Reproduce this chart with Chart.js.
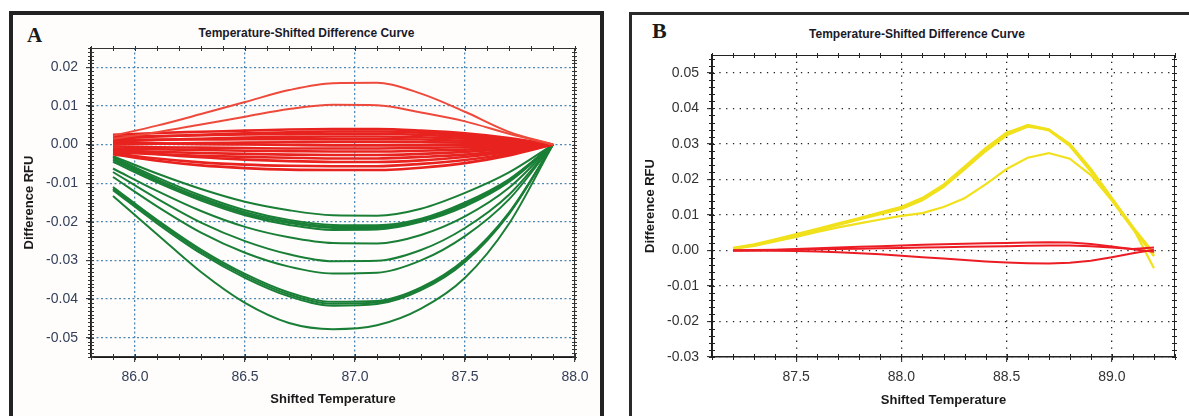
<!DOCTYPE html>
<html>
<head>
<meta charset="utf-8">
<script src="https://cdn.jsdelivr.net/npm/chart.js@4"></script>
<style>
  body { margin: 0; width: 1189px; height: 416px; overflow: hidden; background: #fff; position: relative; font-family: 'Liberation Sans', Arial, sans-serif; }
  .frame { position: absolute; box-sizing: border-box; }
  #frameA { left: 9px; top: 11px; width: 595px; height: 420px; border: 4px solid #222; background: #fffdfc; }
  #frameB { left: 629px; top: 12px; width: 600px; height: 420px; border: 3px solid #2a2a2a; background: #fff; }
  .letter { position: absolute; font: bold 21px 'Liberation Serif', 'DejaVu Serif', serif; color: #1a1a1a; }
  .title { position: absolute; text-align: center; font: bold 12px 'Liberation Sans Narrow', 'Liberation Sans', Arial, sans-serif; color: #1a1a2a; }
  canvas { position: absolute; }
</style>
</head>
<body>
<div class="frame" id="frameA"></div>
<div class="frame" id="frameB"></div>
<div class="letter" style="left:27px; top:23px;">A</div>
<div class="letter" style="left:652px; top:18px; font-size:22px;">B</div>
<div class="title" style="left:9px; width:595px; top:26px;">Temperature-Shifted Difference Curve</div>
<div class="title" style="left:629px; width:576px; top:27px;">Temperature-Shifted Difference Curve</div>
<canvas id="chartA" width="588" height="402" style="left:12px; top:14px;"></canvas>
<canvas id="chartB" width="559" height="401" style="left:630px; top:15px;"></canvas>
<script>
// ---- panel A data ----
const aTemps = [85.9, 86.1, 86.3, 86.5, 86.7, 86.9, 87.1, 87.3, 87.5, 87.7, 87.9];
const aXTicks = [86.0, 86.5, 87.0, 87.5, 88.0];
const aYTicks = [-0.05, -0.04, -0.03, -0.02, -0.01, 0.00, 0.01, 0.02];

const aRed = [
    [0.0023, 0.0049, 0.0079, 0.0110, 0.0141, 0.0159, 0.0160, 0.0132, 0.0085, 0.0033, 0],
    [0.0015, 0.0032, 0.0052, 0.0072, 0.0092, 0.0103, 0.0102, 0.0083, 0.0060, 0.0028, 0],
    [0.0025, 0.0030, 0.0033, 0.0036, 0.0039, 0.0040, 0.0040, 0.0036, 0.0029, 0.0017, 0],
    [0.0015, 0.0021, 0.0025, 0.0029, 0.0032, 0.0034, 0.0034, 0.0031, 0.0024, 0.0014, 0],
    [0.0020, 0.0022, 0.0024, 0.0026, 0.0027, 0.0028, 0.0028, 0.0025, 0.0020, 0.0012, 0],
    [0.0008, 0.0012, 0.0015, 0.0018, 0.0020, 0.0021, 0.0021, 0.0019, 0.0015, 0.0009, 0],
    [0.0012, 0.0013, 0.0013, 0.0014, 0.0014, 0.0014, 0.0014, 0.0013, 0.0010, 0.0006, 0],
    [0.0000, 0.0002, 0.0004, 0.0005, 0.0006, 0.0007, 0.0007, 0.0006, 0.0005, 0.0003, 0],
    [0.0005, 0.0003, 0.0001, 0.0000, -0.0001, -0.0002, -0.0002, -0.0002, -0.0001, -0.0001, 0],
    [-0.0005, -0.0007, -0.0008, -0.0009, -0.0010, -0.0010, -0.0010, -0.0009, -0.0007, -0.0004, 0],
    [-0.0010, -0.0012, -0.0014, -0.0016, -0.0017, -0.0018, -0.0018, -0.0016, -0.0013, -0.0008, 0],
    [-0.0015, -0.0019, -0.0022, -0.0024, -0.0026, -0.0027, -0.0027, -0.0024, -0.0019, -0.0011, 0],
    [-0.0020, -0.0025, -0.0029, -0.0032, -0.0034, -0.0036, -0.0036, -0.0032, -0.0026, -0.0015, 0],
    [-0.0012, -0.0024, -0.0033, -0.0039, -0.0043, -0.0045, -0.0045, -0.0041, -0.0032, -0.0019, 0],
    [-0.0022, -0.0036, -0.0046, -0.0052, -0.0055, -0.0056, -0.0056, -0.0050, -0.0040, -0.0024, 0],
    [-0.0025, -0.0042, -0.0054, -0.0061, -0.0065, -0.0066, -0.0066, -0.0060, -0.0048, -0.0028, 0]
];

const aGreen = [
    [-0.0030, -0.0075, -0.0115, -0.0148, -0.0170, -0.0183, -0.0184, -0.0166, -0.0125, -0.0072, 0],
    [-0.0032, -0.0085, -0.0132, -0.0170, -0.0195, -0.0208, -0.0209, -0.0192, -0.0150, -0.0090, 0],
    [-0.0036, -0.0090, -0.0137, -0.0175, -0.0199, -0.0212, -0.0213, -0.0195, -0.0153, -0.0092, 0],
    [-0.0040, -0.0094, -0.0141, -0.0179, -0.0203, -0.0216, -0.0216, -0.0197, -0.0156, -0.0094, 0],
    [-0.0045, -0.0098, -0.0145, -0.0183, -0.0208, -0.0221, -0.0220, -0.0200, -0.0160, -0.0097, 0],
    [-0.0062, -0.0120, -0.0172, -0.0213, -0.0240, -0.0255, -0.0256, -0.0234, -0.0186, -0.0112, 0],
    [-0.0071, -0.0140, -0.0202, -0.0250, -0.0284, -0.0302, -0.0301, -0.0273, -0.0216, -0.0130, 0],
    [-0.0084, -0.0160, -0.0228, -0.0280, -0.0316, -0.0334, -0.0332, -0.0300, -0.0237, -0.0142, 0],
    [-0.0110, -0.0195, -0.0272, -0.0335, -0.0383, -0.0407, -0.0405, -0.0370, -0.0297, -0.0176, 0],
    [-0.0114, -0.0199, -0.0277, -0.0340, -0.0388, -0.0412, -0.0409, -0.0373, -0.0300, -0.0178, 0],
    [-0.0118, -0.0204, -0.0282, -0.0345, -0.0393, -0.0417, -0.0413, -0.0377, -0.0304, -0.0180, 0],
    [-0.0133, -0.0232, -0.0330, -0.0410, -0.0462, -0.0478, -0.0468, -0.0425, -0.0345, -0.0205, 0]
];

// ---- panel B data ----
const bTemps = [87.2, 87.3, 87.4, 87.5, 87.6, 87.7, 87.8, 87.9, 88.0, 88.1, 88.2,
                88.3, 88.4, 88.5, 88.6, 88.7, 88.8, 88.9, 89.0, 89.1, 89.2];
const bXTicks = [87.5, 88.0, 88.5, 89.0];
const bYTicks = [-0.03, -0.02, -0.01, 0.00, 0.01, 0.02, 0.03, 0.04, 0.05];

const bYellow = [
    [0.0006, 0.0016, 0.0029, 0.0044, 0.0059, 0.0074, 0.0089, 0.0105, 0.0121, 0.0146, 0.0182, 0.0232, 0.0284, 0.0329, 0.0353, 0.0341, 0.0298, 0.0226, 0.0145, 0.0064, -0.0050],
    [0.0007, 0.0017, 0.0031, 0.0046, 0.0061, 0.0076, 0.0091, 0.0107, 0.0123, 0.0148, 0.0185, 0.0236, 0.0288, 0.0332, 0.0351, 0.0338, 0.0294, 0.0222, 0.0142, 0.0062, -0.0016],
    [0.0005, 0.0015, 0.0028, 0.0042, 0.0057, 0.0072, 0.0087, 0.0102, 0.0117, 0.0141, 0.0178, 0.0228, 0.0279, 0.0324, 0.0348, 0.0340, 0.0300, 0.0230, 0.0148, 0.0066, -0.0008],
    [0.0004, 0.0013, 0.0025, 0.0038, 0.0052, 0.0065, 0.0076, 0.0087, 0.0097, 0.0105, 0.0122, 0.0147, 0.0186, 0.0229, 0.0261, 0.0274, 0.0258, 0.0212, 0.0140, 0.0060, -0.0015]
];

const bRed = [
    [0, 0.0001, 0.0002, 0.0004, 0.0006, 0.0008, 0.0010, 0.0012, 0.0014, 0.0016, 0.0017, 0.0019, 0.0020, 0.0021, 0.0022, 0.0023, 0.0022, 0.0018, 0.0011, 0.0003, -0.0004],
    [0, 0.0000, 0.0001, 0.0002, 0.0003, 0.0004, 0.0005, 0.0006, 0.0007, 0.0008, 0.0009, 0.0010, 0.0011, 0.0012, 0.0013, 0.0014, 0.0014, 0.0012, 0.0008, 0.0004, 0.0008],
    [0, 0.0000, -0.0001, -0.0002, -0.0003, -0.0005, -0.0008, -0.0011, -0.0015, -0.0019, -0.0023, -0.0027, -0.0031, -0.0034, -0.0036, -0.0037, -0.0035, -0.0029, -0.0019, -0.0008, 0.0002]
];

Chart.defaults.font.family = "'Liberation Sans', Arial, sans-serif";

// frame around the plot area plus small minor ticks on all four sides
const frameTicks = {
    id: 'frameTicks',
    afterDatasetsDraw(chart, args, opts) {
        const { ctx, chartArea: a, scales: { x, y } } = chart;
        ctx.save();
        ctx.strokeStyle = opts.color;
        ctx.lineWidth = 1;
        ctx.strokeRect(a.left + 0.5, a.top + 0.5, a.right - a.left - 1, a.bottom - a.top - 1);
        ctx.beginPath();
        const n0 = Math.ceil(x.min / opts.xStep - 1e-6), n1 = Math.floor(x.max / opts.xStep + 1e-6);
        for (let i = n0; i <= n1; i++) {
            const px = Math.round(x.getPixelForValue(i * opts.xStep)) + 0.5;
            ctx.moveTo(px, a.bottom - 3); ctx.lineTo(px, a.bottom + 3);
            ctx.moveTo(px, a.top - 2); ctx.lineTo(px, a.top + 3);
        }
        const m0 = Math.ceil(y.min / opts.yStep - 1e-6), m1 = Math.floor(y.max / opts.yStep + 1e-6);
        for (let i = m0; i <= m1; i++) {
            const py = Math.round(y.getPixelForValue(i * opts.yStep)) + 0.5;
            ctx.moveTo(a.left - 3, py); ctx.lineTo(a.left + 3, py);
            ctx.moveTo(a.right - 3, py); ctx.lineTo(a.right + 2, py);
        }
        ctx.stroke();
        ctx.restore();
    }
};

function series(xs, ys, color, width, curve) {
    return {
        data: xs.map((t, i) => ({ x: t, y: ys[i] })),
        borderColor: color,
        borderWidth: width,
        pointRadius: 0,
        fill: false,
        cubicInterpolationMode: curve ? 'monotone' : 'default',
        tension: 0
    };
}

function axes(cfg) {
    const gridOpts = { color: cfg.gridColor, lineWidth: cfg.gridW, tickLength: 5, tickColor: '#222', tickBorderDash: [], tickWidth: 1 };
    // in v4 the dash of the grid lines lives under border.dash
    const borderOpts = { display: true, color: '#1a1a1a', width: cfg.axisW, dash: cfg.dash };
    return {
        x: {
            type: 'linear', min: cfg.xMin, max: cfg.xMax,
            afterBuildTicks: s => { s.ticks = cfg.xTicks.map(v => ({ value: v })); },
            afterFit: s => { s.height = cfg.xH; },
            ticks: { callback: v => Number(v).toFixed(1), padding: 7, color: cfg.tickColor, font: { size: 14 }, maxRotation: 0 },
            grid: gridOpts,
            border: borderOpts,
            title: { display: true, text: 'Shifted Temperature', color: '#1a1a1a', font: { size: 13, weight: 'bold' }, padding: { top: 0, bottom: cfg.xTitlePad } }
        },
        y: {
            type: 'linear', min: cfg.yMin, max: cfg.yMax,
            afterBuildTicks: s => { s.ticks = cfg.yTicks.map(v => ({ value: v })); },
            afterFit: s => { s.width = cfg.yW; },
            ticks: { callback: v => Number(v).toFixed(2), padding: 8, color: cfg.tickColor, font: { size: 14 } },
            grid: gridOpts,
            border: borderOpts,
            title: { display: true, text: 'Difference RFU', color: '#1a1a1a', font: { size: 13, weight: 'bold' }, padding: { top: cfg.yTitlePad, bottom: 0 } }
        }
    };
}

document.addEventListener("DOMContentLoaded", function() {

    const aSets = [];
    aRed.forEach((ys, i) => aSets.push(series(aTemps, ys, i < 2 ? '#ee4a3c' : '#e8231f', i < 2 ? 2 : 2.6, true)));
    aGreen.forEach(ys => aSets.push(series(aTemps, ys, '#1a7f36', 2, true)));

    new Chart(document.getElementById('chartA'), {
        type: 'line',
        data: { datasets: aSets },
        options: {
            responsive: false,
            animation: false,
            layout: { padding: { left: 0, top: 34, right: 25, bottom: 0 } },
            plugins: {
                legend: { display: false },
                tooltip: { enabled: false },
                frameTicks: { color: '#333', xStep: 0.1, yStep: 0.001 }
            },
            scales: axes({
                xMin: 85.8, xMax: 88.0, yMin: -0.055, yMax: 0.025,
                xTicks: aXTicks, yTicks: aYTicks,
                xH: 59, yW: 79, xTitlePad: 9, yTitlePad: 10,
                tickColor: '#34405a', gridColor: '#4f87b3', dash: [2, 2.5], gridW: 1.3, axisW: 2
            })
        },
        plugins: [frameTicks]
    });

    const bSets = [];
    bRed.forEach(ys => bSets.push(series(bTemps, ys, '#ec1c24', 2, false)));
    bYellow.forEach(ys => bSets.push(series(bTemps, ys, '#f0e11c', 2.2, false)));

    new Chart(document.getElementById('chartB'), {
        type: 'line',
        data: { datasets: bSets },
        options: {
            responsive: false,
            animation: false,
            layout: { padding: { left: 0, top: 40, right: 14, bottom: 0 } },
            plugins: {
                legend: { display: false },
                tooltip: { enabled: false },
                frameTicks: { color: '#222', xStep: 0.1, yStep: 0.002 }
            },
            scales: axes({
                xMin: 87.1, xMax: 89.3, yMin: -0.03, yMax: 0.055,
                xTicks: bXTicks, yTicks: bYTicks,
                xH: 59, yW: 82, xTitlePad: 8, yTitlePad: 13,
                tickColor: '#333', gridColor: '#222', dash: [1.3, 5.5], gridW: 1.3, axisW: 1.5
            })
        },
        plugins: [frameTicks]
    });
});
</script>
</body>
</html>
